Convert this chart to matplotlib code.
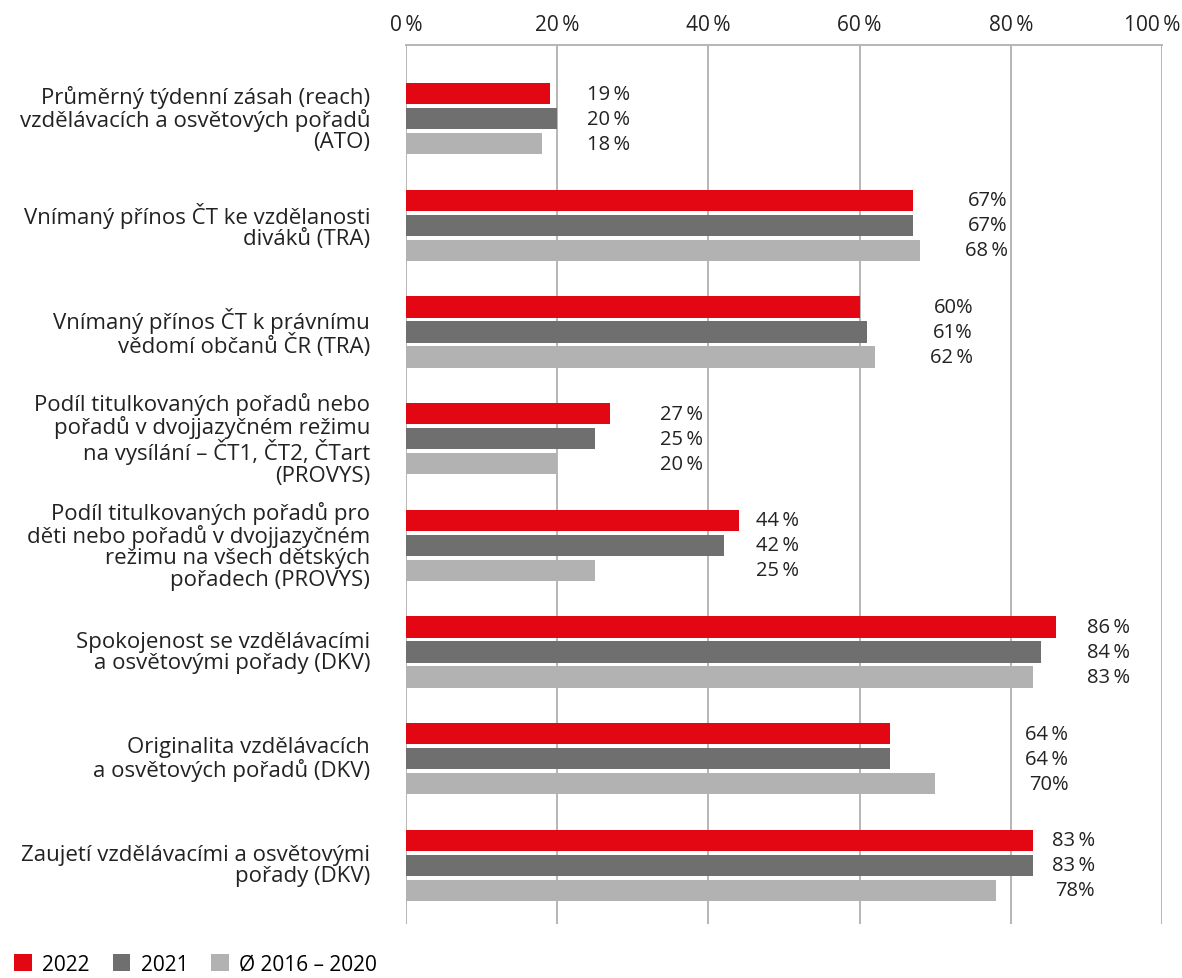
import numpy as np
import matplotlib.pyplot as plt
import matplotlib.transforms as mtransforms
from matplotlib.patches import Patch

plt.rcParams['font.family'] = ['Open Sans', 'DejaVu Sans']

# ---------------- DATA ----------------
categories = [
    "Průměrný týdenní zásah (reach)\nvzdělávacích a osvětových pořadů\n(ATO)",
    "Vnímaný přínos ČT ke vzdělanosti\ndiváků (TRA)",
    "Vnímaný přínos ČT k právnímu\nvědomí občanů ČR (TRA)",
    "Podíl titulkovaných pořadů nebo\npořadů v dvojjazyčném režimu\nna vysílání – ČT1, ČT2, ČTart\n(PROVYS)",
    "Podíl titulkovaných pořadů pro\nděti nebo pořadů v dvojjazyčném\nrežimu na všech dětských\npořadech (PROVYS)",
    "Spokojenost se vzdělávacími\na osvětovými pořady (DKV)",
    "Originalita vzdělávacích\na osvětových pořadů (DKV)",
    "Zaujetí vzdělávacími a osvětovými\npořady (DKV)",
]
series_names = ["2022", "2021", "Ø 2016 – 2020"]
v2022 = [19, 67, 60, 27, 44, 86, 64, 83]
v2021 = [20, 67, 61, 25, 42, 84, 64, 83]
vavg = [18, 68, 62, 20, 25, 83, 70, 78]
# label text as printed (some without the thin space)
lab2022 = ["19\u2009%", "67%", "60%", "27\u2009%", "44\u2009%", "86\u2009%", "64\u2009%", "83\u2009%"]
lab2021 = ["20\u2009%", "67%", "61%", "25\u2009%", "42\u2009%", "84\u2009%", "64\u2009%", "83\u2009%"]
labavg = ["18\u2009%", "68\u2009%", "62\u2009%", "20\u2009%", "25\u2009%", "83\u2009%", "70%", "78%"]
xticks = [0, 20, 40, 60, 80, 100]

# ---------------- LAYOUT ----------------
colors = ["#e30613", "#6f6f6f", "#b2b2b2"]
label_right = [29.6, 79.6, 75.0, 39.3, 52.0, 95.8, 87.6, 91.1]  # right edge of value labels (%)
offsets = [-0.235, 0.0, 0.235]
bar_h = 0.2
txt_col = "#222222"

fig = plt.figure(figsize=(11.82, 9.79), dpi=100)
ax = fig.add_axes([406 / 1182, 1 - 925 / 979, 756 / 1182, (925 - 46) / 979])

y = np.arange(len(categories))
for vals, labs, off, col in zip([v2022, v2021, vavg], [lab2022, lab2021, labavg], offsets, colors):
    ax.barh(y + off, vals, height=bar_h, color=col, zorder=3)
    for i, t in enumerate(labs):
        ax.text(label_right[i], y[i] + off, t, ha="right", va="center",
                fontsize=14.5, color=txt_col)

ax.set_xlim(0, 100)
ax.set_ylim(7.55, -0.69)
ax.set_xticks(xticks)
ax.set_xticklabels([f"{t}\u2009%" for t in xticks], fontsize=15, color=txt_col)
ax.xaxis.tick_top()
ax.tick_params(axis="x", length=0, pad=7)
ax.set_yticks([])
ax.grid(axis="x", color="#b5b5b5", linewidth=1.4, zorder=0)
for s in ["right", "bottom", "left"]:
    ax.spines[s].set_visible(False)
ax.spines["top"].set_color("#b5b5b5")
ax.spines["top"].set_linewidth(1.4)

# nudge the last tick label so it stays inside the figure
last = ax.get_xticklabels()[-1]
last.set_transform(last.get_transform() +
                   mtransforms.ScaledTranslation(-10 / 100, 0, fig.dpi_scale_trans))

for i, c in enumerate(categories):
    ax.text(-36 / 7.56, y[i], c, ha="right", va="center", fontsize=16,
            color=txt_col, linespacing=1.02)

handles = [Patch(facecolor=c, edgecolor="none") for c in colors]
fig.legend(handles, series_names, loc="lower left", bbox_to_anchor=(-0.004, -0.016),
           ncol=3, frameon=False, fontsize=15, handlelength=0.85, handleheight=0.85,
           handletextpad=0.5, columnspacing=1.1)

fig.savefig("out.png", dpi=100)
